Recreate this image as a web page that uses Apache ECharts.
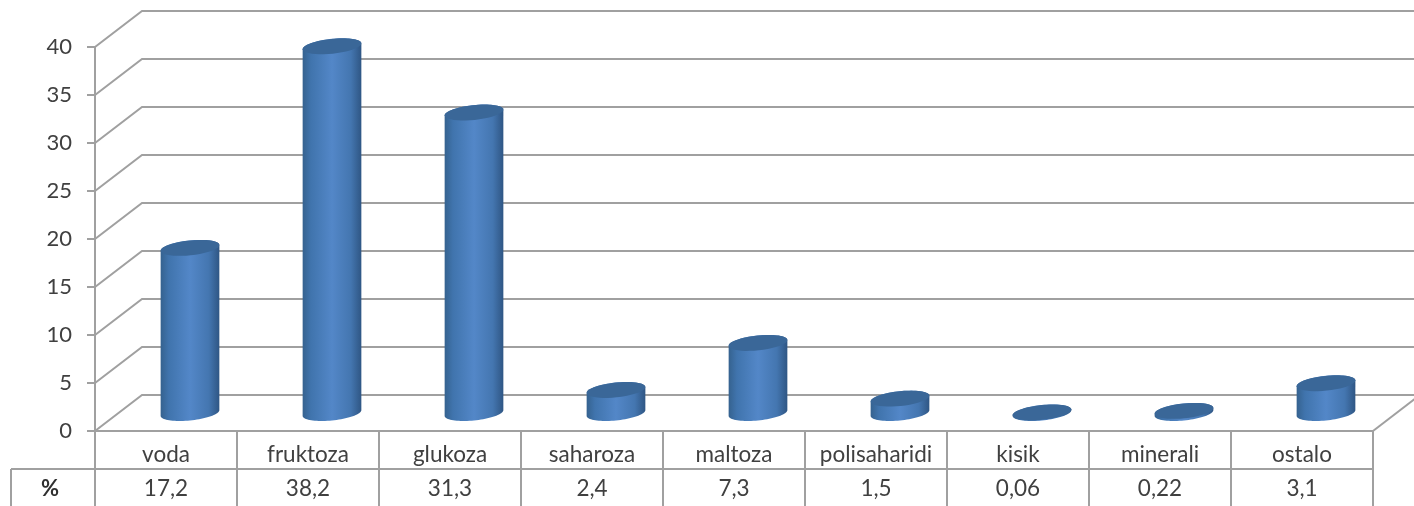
<!DOCTYPE html>
<html><head><meta charset="utf-8">
<style>html,body{margin:0;padding:0;background:#fff}#c{width:1414px;height:506px}</style>
<script src="https://cdn.jsdelivr.net/npm/echarts@6/dist/echarts.min.js"></script>
</head><body><div id="c"></div>
<script>
const categories = ['voda','fruktoza','glukoza','saharoza','maltoza','polisaharidi','kisik','minerali','ostalo'];
const values = [17.2,38.2,31.3,2.4,7.3,1.5,0.06,0.22,3.1];
const percentLabels = ['17,2','38,2','31,3','2,4','7,3','1,5','0,06','0,22','3,1'];
const yTicks = [0,5,10,15,20,25,30,35,40];
const rowTitle = '%';

const DX = 47, DY = -36;          // depth of the 3D box
const BAR_DX = 24, BAR_DY = -18;  // bars stand mid-depth
const RX = 29.5, RY = 7.4, TILT = -6 * Math.PI / 180;
const LINE = '#a0a0a0', TEXT = '#404040';
const FONT = 'Lato';

function ell(cx, cy, t) {
  const c = Math.cos(t), s = Math.sin(t);
  return [cx + RX * c * Math.cos(TILT) - RY * s * Math.sin(TILT),
          cy + RX * c * Math.sin(TILT) + RY * s * Math.cos(TILT)];
}
const T0 = Math.atan2(-RY * Math.sin(TILT), RX * Math.cos(TILT));
function arc(cx, cy, from, to) {
  const pts = [];
  for (let i = 0; i <= 40; i++) pts.push(ell(cx, cy, from + (to - from) * i / 40));
  return pts;
}

const chart = echarts.init(document.getElementById('c'), null, {renderer: 'canvas'});
chart.setOption({
  backgroundColor: '#fff',
  animation: false,
  grid: {left: 95, right: 41, top: 47, bottom: 75, containLabel: false},
  xAxis: [
    {type: 'category', data: categories, position: 'bottom',
     axisLine: {show: false}, axisTick: {show: false},
     axisLabel: {interval: 0, margin: 12, color: TEXT, fontFamily: FONT, fontSize: 22.5}},
    {type: 'category', data: percentLabels, position: 'bottom', offset: 34,
     axisLine: {show: false}, axisTick: {show: false},
     axisLabel: {interval: 0, margin: 12, color: TEXT, fontFamily: FONT, fontSize: 22.5}}
  ],
  yAxis: {
    type: 'value', min: 0, max: 40, interval: 5,
    axisLine: {show: true, lineStyle: {color: LINE, width: 2}},
    axisTick: {show: true, length: 8, lineStyle: {color: LINE, width: 2}},
    splitLine: {show: false},
    axisLabel: {margin: 23, color: TEXT, fontFamily: FONT, fontSize: 22}
  },
  series: [
    { // back wall and side wall lines
      type: 'custom', xAxisIndex: 0, z: 1, silent: true,
      data: yTicks.map(t => [0, t]),
      renderItem(params, api) {
        const cs = params.coordSys, y = api.coord([0, api.value(1)])[1], x = cs.x;
        const ls = {stroke: LINE, lineWidth: 2, fill: null};
        return {type: 'polyline', shape: {points: [[x, y], [x + DX, y + DY], [1430, y + DY]]}, style: ls};
      }
    },
    { // data table and floor edge
      type: 'custom', xAxisIndex: 0, z: 1, silent: true,
      data: [[0, 0]],
      renderItem(params, api) {
        const cs = params.coordSys, L = cs.x, R = cs.x + cs.width, T = cs.y + cs.height;
        const bw = cs.width / categories.length, ROW = T + 38, B = 520, C0 = 11;
        const ls = {stroke: LINE, lineWidth: 2};
        const line = (a, b, c, d) => ({type: 'line', shape: {x1: a, y1: b, x2: c, y2: d}, style: ls});
        const kids = [line(L, T, R, T), line(C0, ROW, R, ROW), line(C0, ROW, C0, B), line(R, T, R + 60, T - 46)];
        for (let i = 0; i <= categories.length; i++) kids.push(line(L + i * bw, T, L + i * bw, B));
        kids.push({type: 'text', style: {text: rowTitle, x: (C0 + L) / 2 - 3, y: 489, align: 'center', verticalAlign: 'middle',
          fill: '#303030', font: 'bold 22px ' + FONT}});
        return {type: 'group', children: kids};
      }
    },
    { // cylinders
      type: 'custom', xAxisIndex: 0, z: 3, silent: true,
      data: values.map((v, i) => [i, v]),
      encode: {x: 0, y: 1},
      renderItem(params, api) {
        const i = api.value(0), v = api.value(1);
        const base = api.coord([i, 0]), top = api.coord([i, v]);
        const cx = base[0] + BAR_DX, by = base[1] + BAR_DY, ty = top[1] + BAR_DY;
        const bottomArc = arc(cx, by, T0, T0 + Math.PI);
        const body = bottomArc.concat(arc(cx, ty, T0 + Math.PI, T0 + 2 * Math.PI));
        const grad = new echarts.graphic.LinearGradient(0, 0, 1, 0, [
          {offset: 0, color: '#35628f'}, {offset: 0.14, color: '#4074ad'},
          {offset: 0.5, color: '#5387c8'}, {offset: 0.82, color: '#4476b0'},
          {offset: 1, color: '#2f5684'}]);
        return {type: 'group', children: [
          {type: 'polygon', shape: {points: body}, style: {fill: grad}},
          {type: 'polygon', shape: {points: arc(cx, ty, 0, 2 * Math.PI)}, style: {fill: '#3a6798'}}
        ]};
      }
    }
  ]
});
</script></body></html>
